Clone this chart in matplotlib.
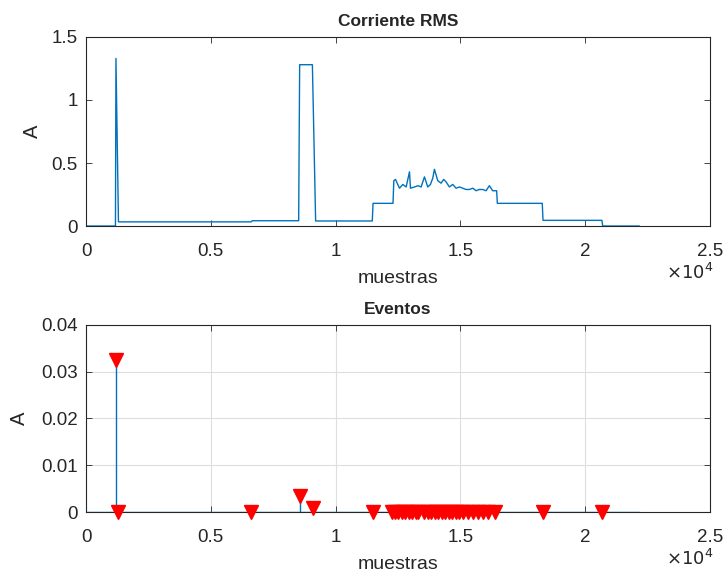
import matplotlib.pyplot as plt
import numpy as np

# RMS current, breakpoints of the trace (sample index, amperes)
rms_x = [0, 1180, 1200, 1300, 6620, 6660, 8520, 8560, 8600, 9070, 9200,
         11470, 11500, 12300, 12333, 12400, 12560, 12693, 12827, 12960, 13000,
         13160, 13300, 13427, 13560, 13693, 13800, 13893, 13960, 14093, 14227,
         14330, 14427, 14560, 14693, 14827, 14960, 15093, 15230, 15360, 15500,
         15627, 15760, 15893, 16030, 16160, 16293, 16453, 16480, 18280, 18310,
         20670, 20700, 22160]
rms_y = [0.0, 0.0, 1.33, 0.033, 0.033, 0.042, 0.042, 1.28, 1.28, 1.28, 0.04,
         0.04, 0.18, 0.18, 0.36, 0.37, 0.30, 0.33, 0.31, 0.43, 0.30,
         0.31, 0.32, 0.31, 0.39, 0.31, 0.33, 0.38, 0.45, 0.36, 0.34,
         0.37, 0.35, 0.31, 0.33, 0.30, 0.31, 0.30, 0.29, 0.29, 0.30,
         0.28, 0.29, 0.29, 0.28, 0.32, 0.28, 0.28, 0.18, 0.18, 0.045,
         0.045, 0.0, 0.0]

# detected events (sample index, amplitude)
ev_x = [1190, 1290, 6600, 8560, 9095, 11490,
        12240, 12380, 12520, 12660, 12800, 12940, 13080, 13220, 13300,
        13560, 13700, 13840, 13980, 14120, 14260, 14400, 14540, 14680,
        14820, 14960, 15100, 15300, 15500, 15700, 15900, 16100, 16400,
        18290, 20670]
ev_y = [0.0325, 0.0, 0.0, 0.0034, 0.0008, 0.0,
        0, 0, 0, 0, 0, 0, 0, 0, 0,
        0, 0, 0, 0, 0, 0, 0, 0, 0,
        0, 0, 0, 0, 0, 0, 0, 0, 0,
        0.0, 0.0]
n_samples = 22160

xticks = [0, 5000, 10000, 15000, 20000, 25000]
xticklabels = ['0', '0.5', '1', '1.5', '2', '2.5']

blue = '#0072BD'
ink = '#262626'

plt.rcParams['font.family'] = ['Liberation Sans', 'DejaVu Sans']
for k in ('text.color', 'axes.edgecolor', 'axes.labelcolor', 'xtick.color', 'ytick.color'):
    plt.rcParams[k] = ink

fig = plt.figure(figsize=(7.27, 5.76), dpi=100)
ax1 = fig.add_axes([0.1183, 0.6076, 0.8583, 0.3282])
ax2 = fig.add_axes([0.1183, 0.1111, 0.8583, 0.3247])


def style(ax, ylab_x):
    h = ax.get_position().height * 576
    ax.set_xlim(0, 25000)
    ax.set_xticks(xticks)
    ax.set_xticklabels(xticklabels)
    ax.tick_params(direction='in', top=True, right=True, labelsize=13.5,
                   length=4, width=0.6)
    ax.tick_params(axis='x', pad=12)
    ax.tick_params(axis='y', pad=6)
    for s in ax.spines.values():
        s.set_linewidth(0.8)
    ax.set_xlabel('muestras', fontsize=14)
    ax.xaxis.label.set_verticalalignment('center')
    ax.xaxis.set_label_coords(0.5, -52 / h)
    ax.set_ylabel('A', fontsize=14.5)
    ax.yaxis.label.set_verticalalignment('center')
    ax.yaxis.set_label_coords(ylab_x, 0.5)
    ax.text(1.005, -47 / h, r'$\times10^4$', transform=ax.transAxes,
            ha='right', va='center', fontsize=13)


# RMS current
ax1.plot(rms_x, rms_y, color=blue, lw=1.0)
style(ax1, -0.086)
ax1.set_ylim(0, 1.5)
ax1.set_yticks([0, 0.5, 1, 1.5])
ax1.set_yticklabels(['0', '0.5', '1', '1.5'])
ax1.set_title('Corriente RMS', fontsize=12.5, fontweight='bold', pad=8)

# events: zero line, spikes, markers
ax2.plot([0, n_samples], [0, 0], color=blue, lw=1.0, zorder=2)
ax2.vlines(ev_x, 0, ev_y, color=blue, lw=1.0, zorder=2)
ax2.plot(ev_x, ev_y, 'v', color='#FF0000', ms=10, zorder=3, clip_on=False)
style(ax2, -0.106)
ax2.set_ylim(0, 0.04)
ax2.set_yticks([0, 0.01, 0.02, 0.03, 0.04])
ax2.set_yticklabels(['0', '0.01', '0.02', '0.03', '0.04'])
ax2.grid(color='#dedede', lw=0.8)
ax2.set_axisbelow(True)
ax2.set_title('Eventos', fontsize=12.5, fontweight='bold', pad=8)

fig.savefig('out.png')
